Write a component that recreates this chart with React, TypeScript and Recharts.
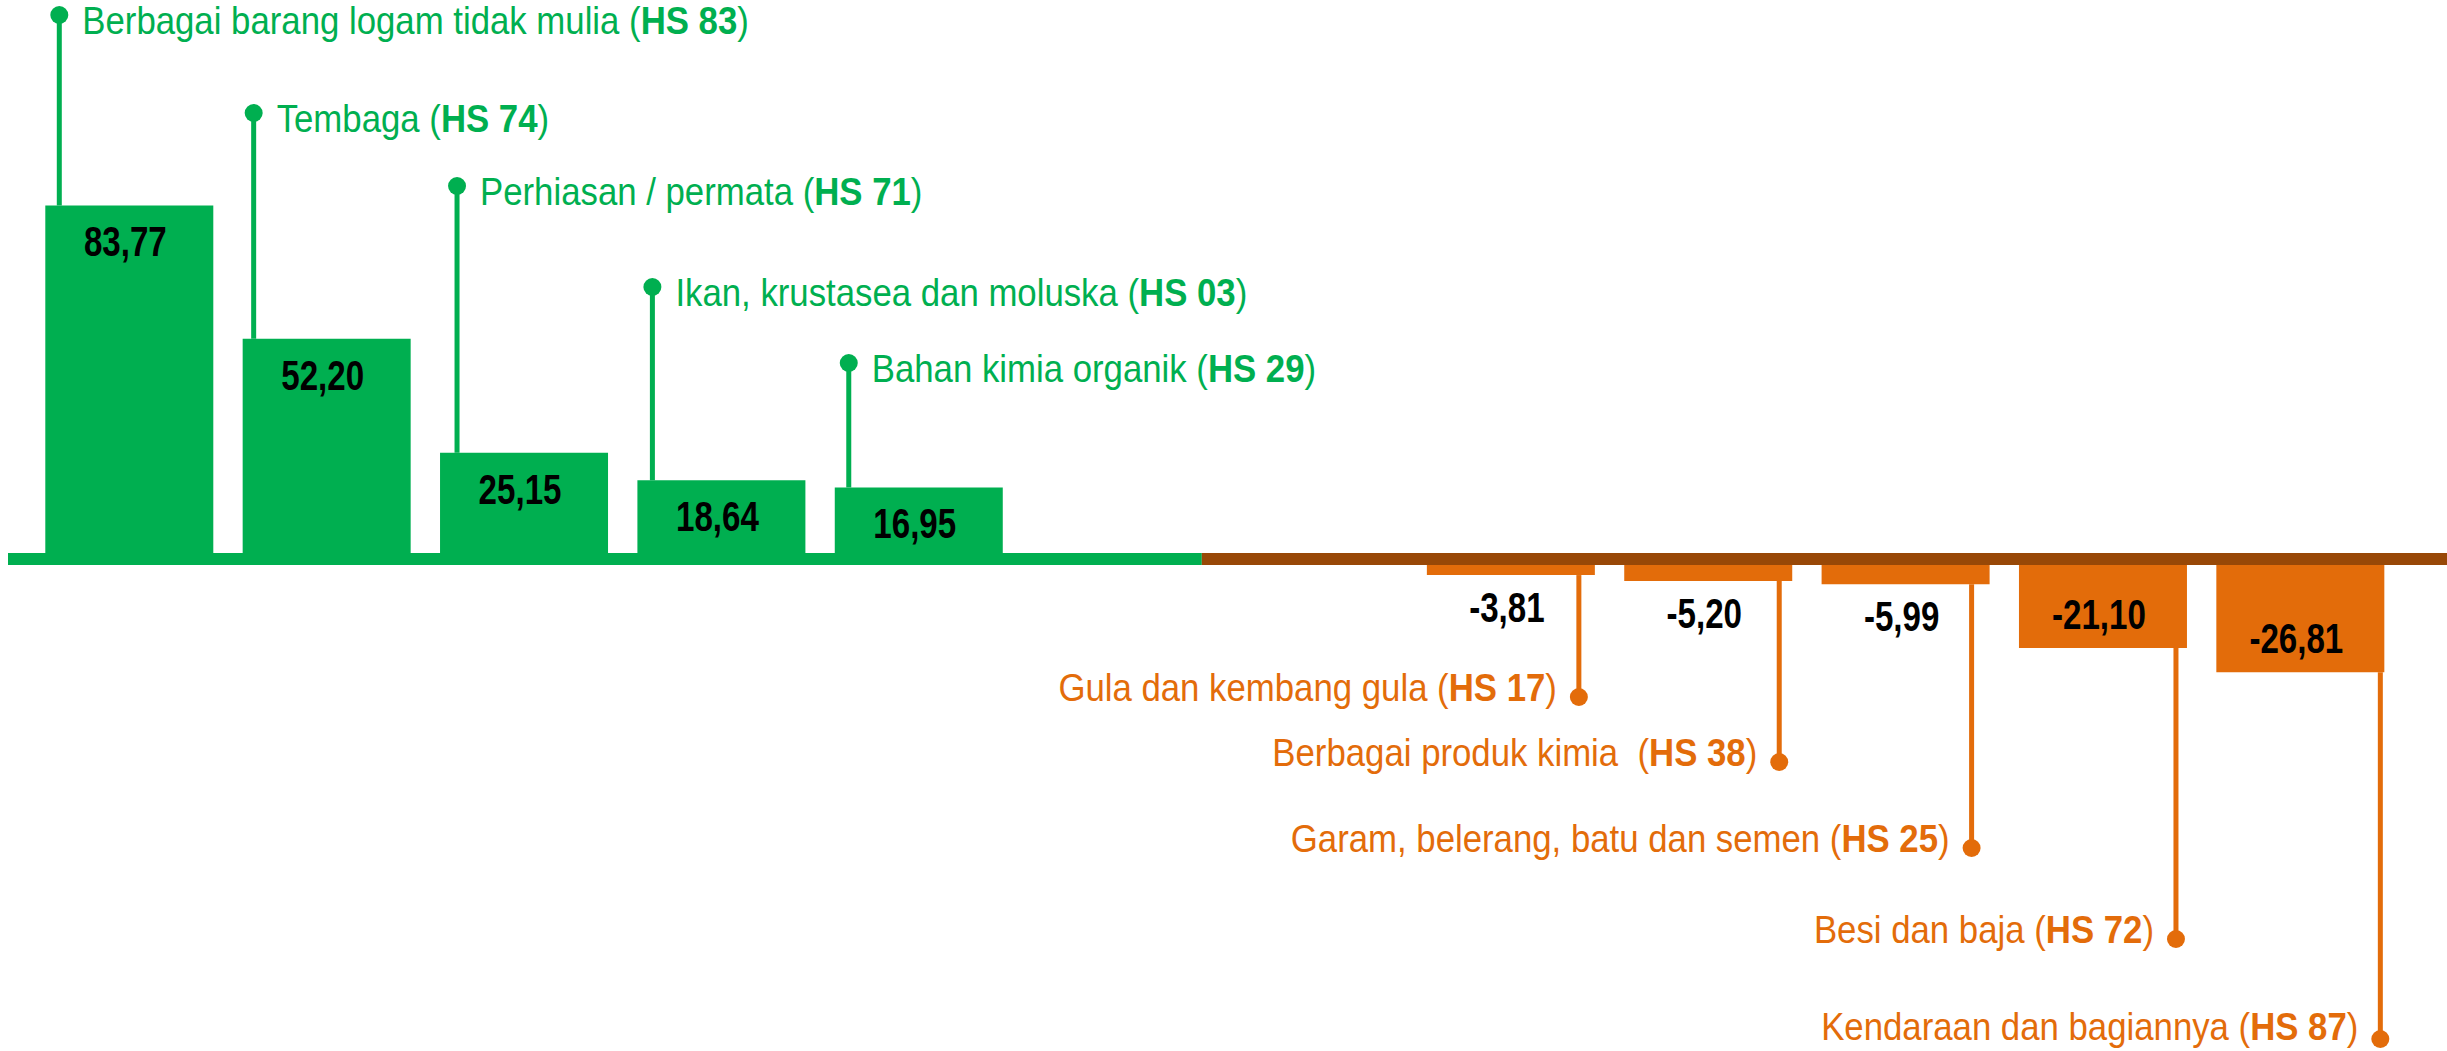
import React from 'react';
import { BarChart, Bar, XAxis, YAxis, Cell, LabelList, ReferenceLine } from 'recharts';

// ---------- data ----------
const categories = ['HS 83', 'HS 74', 'HS 71', 'HS 03', 'HS 29', 'gap-1', 'gap-2', 'HS 17', 'HS 38', 'HS 25', 'HS 72', 'HS 87'];
const productNames = [
  'Berbagai barang logam tidak mulia',
  'Tembaga',
  'Perhiasan / permata',
  'Ikan, krustasea dan moluska',
  'Bahan kimia organik',
  '',
  '',
  'Gula dan kembang gula',
  'Berbagai produk kimia ',
  'Garam, belerang, batu dan semen',
  'Besi dan baja',
  'Kendaraan dan bagiannya',
];
const balanceValues: (number | null)[] = [83.77, 52.2, 25.15, 18.64, 16.95, null, null, -3.81, -5.2, -5.99, -21.1, -26.81];

const chartData = categories.map((c, i) => ({ category: c, value: balanceValues[i] }));

// ---------- layout / style ----------
const W = 2447;
const H = 1051;
const MARGIN_LEFT = 8;
const PAD_LEFT = 24.3;
const PAD_RIGHT = 46.3;
const BAR_SIZE = 168;
const Y_DOMAIN: [number, number] = [-116.59, 132.46];

const GREEN = '#00AF50';
const ORANGE = '#E36C0A';
const BROWN = '#984807';
const FONT = '"Liberation Sans", Arial, sans-serif';

// vertical position (px) of each callout dot, and leader inset from bar edge
const LABEL_DOT_Y = [15, 113, 186, 287, 363, 0, 0, 697, 762, 848, 939, 1039];
const LABEL_TEXT_DY = [19, 19, 19, 19, 19, 0, 0, 4, 4, 4, 4, 1];
const LEADER_INSET = [14, 11, 17, 15, 14, 0, 0, 16, 13, 18, 11, 4];

const fmt = (v: number) => v.toFixed(2).replace('.', ',');

const AxisLineShape = (props: any) => {
  const x1 = Number(props.x1);
  const x2 = Number(props.x2);
  const y = Number(props.y1);
  const band = (x2 - x1 - PAD_LEFT - PAD_RIGHT) / categories.length;
  const split = x1 + PAD_LEFT + 6 * band - (band - BAR_SIZE) / 2;
  return (
    <g>
      <line x1={x1} x2={split} y1={y} y2={y} stroke={GREEN} strokeWidth={12} />
      <line x1={split} x2={x2} y1={y} y2={y} stroke={BROWN} strokeWidth={12} />
    </g>
  );
};

const CalloutLabel = (props: any) => {
  const idx = categories.indexOf(props.value);
  if (idx < 0) return null;
  const v = balanceValues[idx];
  if (v == null) return null;
  const bx = Number(props.x);
  const by = Number(props.y);
  const bw = Number(props.width);
  const bh = Number(props.height);
  const top = Math.min(by, by + bh);
  const bottom = Math.max(by, by + bh);
  const positive = v >= 0;
  const color = positive ? GREEN : ORANGE;
  const leaderX = positive ? bx + LEADER_INSET[idx] : bx + bw - LEADER_INSET[idx];
  const dotY = LABEL_DOT_Y[idx];
  const valueX = bx + bw / 2 - 4;
  const valueY = positive ? top + 51 : bottom - top > 60 ? bottom - 19 : bottom + 47;
  const textX = positive ? leaderX + 23 : leaderX - 22;
  const textY = dotY + LABEL_TEXT_DY[idx];
  return (
    <g>
      <line
        x1={leaderX}
        x2={leaderX}
        y1={dotY}
        y2={positive ? top : bottom}
        stroke={color}
        strokeWidth={5}
      />
      <circle cx={leaderX} cy={dotY} r={9} fill={color} />
      <text
        transform={`translate(${textX},${textY}) scale(0.915,1)`}
        textAnchor={positive ? 'start' : 'end'}
        fill={color}
        fontFamily={FONT}
        fontSize={38}
        style={{ whiteSpace: 'pre' }}
      >
        {productNames[idx] + ' ('}
        <tspan fontWeight="bold">{categories[idx]}</tspan>
        {')'}
      </text>
      <text
        transform={`translate(${valueX},${valueY}) scale(0.77,1)`}
        textAnchor="middle"
        fill="#000000"
        fontFamily={FONT}
        fontWeight="bold"
        fontSize={43}
      >
        {fmt(v)}
      </text>
    </g>
  );
};

export default function App() {
  return (
    <div style={{ position: 'absolute', left: 0, top: 0, width: W, height: H, background: '#ffffff' }}>
      <BarChart
        width={W}
        height={H}
        data={chartData}
        margin={{ top: 0, right: 0, bottom: 0, left: MARGIN_LEFT }}
      >
        <XAxis dataKey="category" type="category" hide padding={{ left: PAD_LEFT, right: PAD_RIGHT }} />
        <YAxis type="number" hide domain={Y_DOMAIN} allowDataOverflow />
        <Bar dataKey="value" barSize={BAR_SIZE} isAnimationActive={false}>
          {chartData.map((d, i) => (
            <Cell key={i} fill={(d.value ?? 0) >= 0 ? GREEN : ORANGE} />
          ))}
        </Bar>
        <ReferenceLine y={0} shape={AxisLineShape} ifOverflow="visible" />
        <Bar dataKey="value" barSize={0} fill="none" isAnimationActive={false} legendType="none">
          <LabelList dataKey="category" content={CalloutLabel} />
        </Bar>
      </BarChart>
    </div>
  );
}
